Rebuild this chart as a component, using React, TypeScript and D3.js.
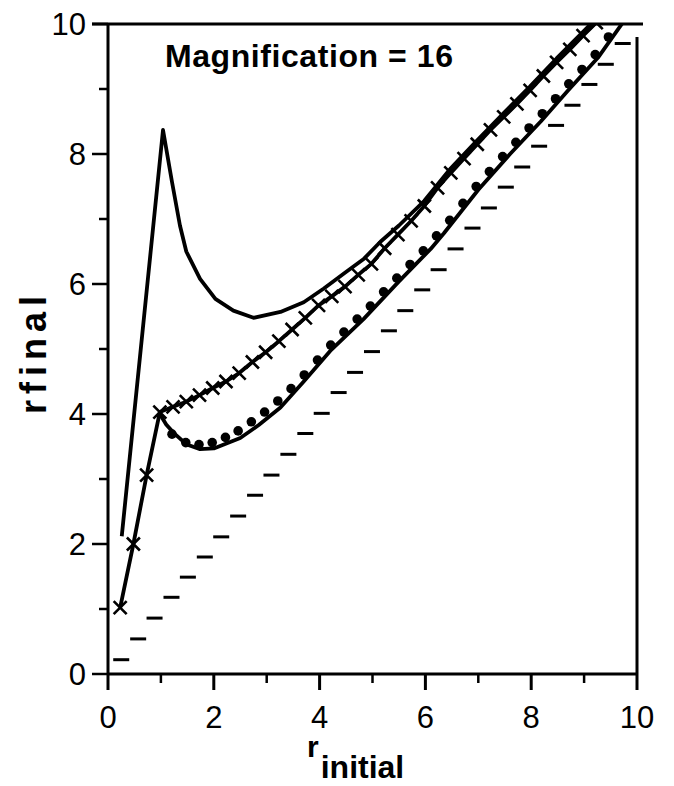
import React, { useEffect, useRef } from 'react';
import * as d3 from 'd3';

// upper curve (sharp spike, then merges with the cross curve)
const spikeX = [0.26, 1.04, 1.21, 1.36, 1.48, 1.74, 2.03, 2.37, 2.75, 3.26, 3.7, 4.08, 4.46, 4.84, 5.15, 5.5, 5.98, 6.48, 6.98, 7.48, 7.98, 8.48, 8.98, 9.2];
const spikeY = [2.12, 8.37, 7.57, 6.9, 6.5, 6.08, 5.77, 5.59, 5.48, 5.57, 5.72, 5.93, 6.16, 6.39, 6.65, 6.9, 7.28, 7.78, 8.21, 8.63, 9.04, 9.47, 9.88, 10.06];

// curve with x markers
const crossX = [0.23, 0.48, 0.73, 0.98, 1.23, 1.48, 1.73, 1.98, 2.23, 2.48, 2.73, 2.98, 3.23, 3.48, 3.73, 3.98, 4.23, 4.48, 4.73, 4.98, 5.23, 5.48, 5.73, 5.98, 6.23, 6.48, 6.73, 6.98, 7.23, 7.48, 7.73, 7.98, 8.23, 8.48, 8.73, 8.98, 9.23];
const crossY = [1.02, 2.0, 3.06, 4.03, 4.11, 4.19, 4.29, 4.4, 4.5, 4.63, 4.8, 4.95, 5.12, 5.3, 5.48, 5.67, 5.81, 5.96, 6.14, 6.31, 6.55, 6.76, 6.97, 7.2, 7.48, 7.71, 7.93, 8.15, 8.37, 8.57, 8.77, 8.98, 9.2, 9.41, 9.61, 9.82, 10.02];

// lower solid curve
const lowerX = [0.98, 1.1, 1.24, 1.49, 1.74, 2.0, 2.5, 2.85, 3.26, 3.7, 4.2, 4.83, 5.5, 6.1, 6.35, 7.0, 7.6, 8.18, 8.7, 9.26, 9.73];
const lowerY = [4.0, 3.84, 3.71, 3.53, 3.46, 3.47, 3.63, 3.83, 4.1, 4.5, 4.97, 5.46, 6.04, 6.54, 6.78, 7.45, 8.0, 8.5, 8.98, 9.48, 10.02];

// dotted series
const dotX = [1.21, 1.47, 1.72, 1.97, 2.22, 2.46, 2.71, 2.96, 3.21, 3.46, 3.71, 3.96, 4.21, 4.46, 4.71, 4.96, 5.21, 5.46, 5.71, 5.96, 6.21, 6.46, 6.71, 6.96, 7.21, 7.46, 7.71, 7.96, 8.21, 8.46, 8.71, 8.96, 9.21, 9.46];
const dotY = [3.69, 3.56, 3.53, 3.56, 3.64, 3.74, 3.88, 4.03, 4.2, 4.39, 4.6, 4.83, 5.06, 5.26, 5.46, 5.66, 5.88, 6.09, 6.3, 6.51, 6.74, 6.98, 7.24, 7.5, 7.73, 7.96, 8.18, 8.4, 8.62, 8.85, 9.08, 9.3, 9.53, 9.8];

// dashed reference (short horizontal dashes)
const dashX = [0.25, 0.57, 0.88, 1.2, 1.51, 1.83, 2.14, 2.46, 2.78, 3.09, 3.41, 3.73, 4.04, 4.36, 4.67, 4.99, 5.31, 5.62, 5.94, 6.25, 6.57, 6.89, 7.2, 7.52, 7.83, 8.15, 8.47, 8.78, 9.1, 9.41, 9.73];
const dashY = [0.22, 0.54, 0.86, 1.18, 1.49, 1.8, 2.11, 2.43, 2.75, 3.06, 3.38, 3.7, 4.01, 4.33, 4.64, 4.96, 5.28, 5.59, 5.91, 6.22, 6.54, 6.86, 7.17, 7.49, 7.8, 8.12, 8.44, 8.75, 9.07, 9.38, 9.7];

const majorTicks = [0, 2, 4, 6, 8, 10];
const minorTicks = [1, 3, 5, 7, 9];
const title = 'Magnification = 16';

const FONT = '"Liberation Sans", Arial, Helvetica, sans-serif';

export default function App() {
  const ref = useRef<SVGSVGElement>(null);

  useEffect(() => {
    const svg = d3.select(ref.current);
    svg.selectAll('*').remove();

    const x = d3.scaleLinear().domain([0, 10]).range([108, 637]);
    const y = d3.scaleLinear().domain([0, 10]).range([674, 24]);

    svg.append('defs').append('clipPath').attr('id', 'plot')
      .append('rect')
      .attr('x', x(0)).attr('y', y(10))
      .attr('width', x(10) - x(0)).attr('height', y(0) - y(10));

    // frame
    const frame = svg.append('g').attr('stroke', '#000').attr('stroke-width', 3).attr('fill', 'none');
    frame.append('line').attr('x1', 92).attr('x2', 643).attr('y1', y(10)).attr('y2', y(10));
    frame.append('line').attr('x1', x(0)).attr('x2', x(0)).attr('y1', y(10)).attr('y2', y(0));
    frame.append('line').attr('x1', x(0)).attr('x2', x(10) + 1).attr('y1', y(0)).attr('y2', y(0));
    frame.append('line').attr('x1', x(10)).attr('x2', x(10)).attr('y1', 37).attr('y2', y(0));

    // y ticks
    frame.selectAll('.ymaj').data(majorTicks).enter().append('line')
      .attr('x1', x(0) - 16).attr('x2', x(0)).attr('y1', d => y(d)).attr('y2', d => y(d)).attr('stroke-width', 2.5);
    frame.selectAll('.ymin').data(minorTicks).enter().append('line')
      .attr('x1', x(0) - 9).attr('x2', x(0)).attr('y1', d => y(d)).attr('y2', d => y(d)).attr('stroke-width', 2.5);
    // x ticks
    frame.selectAll('.xmaj').data(majorTicks).enter().append('line')
      .attr('x1', d => x(d)).attr('x2', d => x(d)).attr('y1', y(0)).attr('y2', y(0) + 16).attr('stroke-width', 3);
    frame.selectAll('.xmin').data(minorTicks).enter().append('line')
      .attr('x1', d => x(d)).attr('x2', d => x(d)).attr('y1', y(0)).attr('y2', y(0) + 9).attr('stroke-width', 2.5);

    // tick labels
    svg.selectAll('.ylab').data(majorTicks).enter().append('text')
      .attr('x', 86).attr('y', d => y(d)).attr('dy', '0.36em')
      .attr('text-anchor', 'end').attr('font-family', FONT).attr('font-size', 31)
      .text(d => d);
    svg.selectAll('.xlab').data(majorTicks).enter().append('text')
      .attr('x', d => x(d)).attr('y', 728)
      .attr('text-anchor', 'middle').attr('font-family', FONT).attr('font-size', 31)
      .text(d => d);

    const plot = svg.append('g').attr('clip-path', 'url(#plot)');
    const line = d3.line<[number, number]>().x(d => x(d[0])).y(d => y(d[1]));

    // dashes
    plot.selectAll('.dash').data(d3.zip(dashX, dashY)).enter().append('line')
      .attr('x1', d => x(d[0]) - 8).attr('x2', d => x(d[0]) + 8)
      .attr('y1', d => y(d[1])).attr('y2', d => y(d[1]))
      .attr('stroke', '#000').attr('stroke-width', 3);

    [d3.zip(spikeX, spikeY), d3.zip(crossX, crossY), d3.zip(lowerX, lowerY)].forEach(pts => {
      plot.append('path').datum(pts as [number, number][])
        .attr('d', line).attr('fill', 'none').attr('stroke', '#000').attr('stroke-width', 3.8)
        .attr('stroke-linejoin', 'round');
    });

    // x markers
    plot.selectAll('.cross').data(d3.zip(crossX, crossY)).enter().append('path')
      .attr('transform', d => `translate(${x(d[0])},${y(d[1])})`)
      .attr('d', 'M-6.5,-6.5L6.5,6.5M-6.5,6.5L6.5,-6.5')
      .attr('stroke', '#000').attr('stroke-width', 2.6).attr('fill', 'none');

    // dots
    plot.selectAll('.dot').data(d3.zip(dotX, dotY)).enter().append('circle')
      .attr('cx', d => x(d[0])).attr('cy', d => y(d[1])).attr('r', 4.8)
      .attr('fill', '#000');

    // title
    svg.append('text').attr('x', 165).attr('y', 67)
      .attr('font-family', FONT).attr('font-weight', 'bold').attr('font-size', 32)
      .attr('textLength', 288)
      .text(title);

    // axis labels
    svg.append('text')
      .attr('transform', 'translate(46,352) rotate(-90)')
      .attr('text-anchor', 'middle').attr('font-family', FONT).attr('font-weight', 'bold')
      .attr('font-size', 36).attr('letter-spacing', 6)
      .text('rfinal');

    const xl = svg.append('text').attr('x', 307).attr('y', 757)
      .attr('font-family', FONT).attr('font-weight', 'bold').attr('font-size', 30);
    xl.append('tspan').text('r');
    xl.append('tspan').attr('dy', 21).attr('dx', 2).attr('font-size', 32).text('initial');
  }, []);

  return (
    <svg ref={ref} width={674} height={786}
      style={{ position: 'absolute', left: 0, top: 0, background: '#fff' }} />
  );
}
